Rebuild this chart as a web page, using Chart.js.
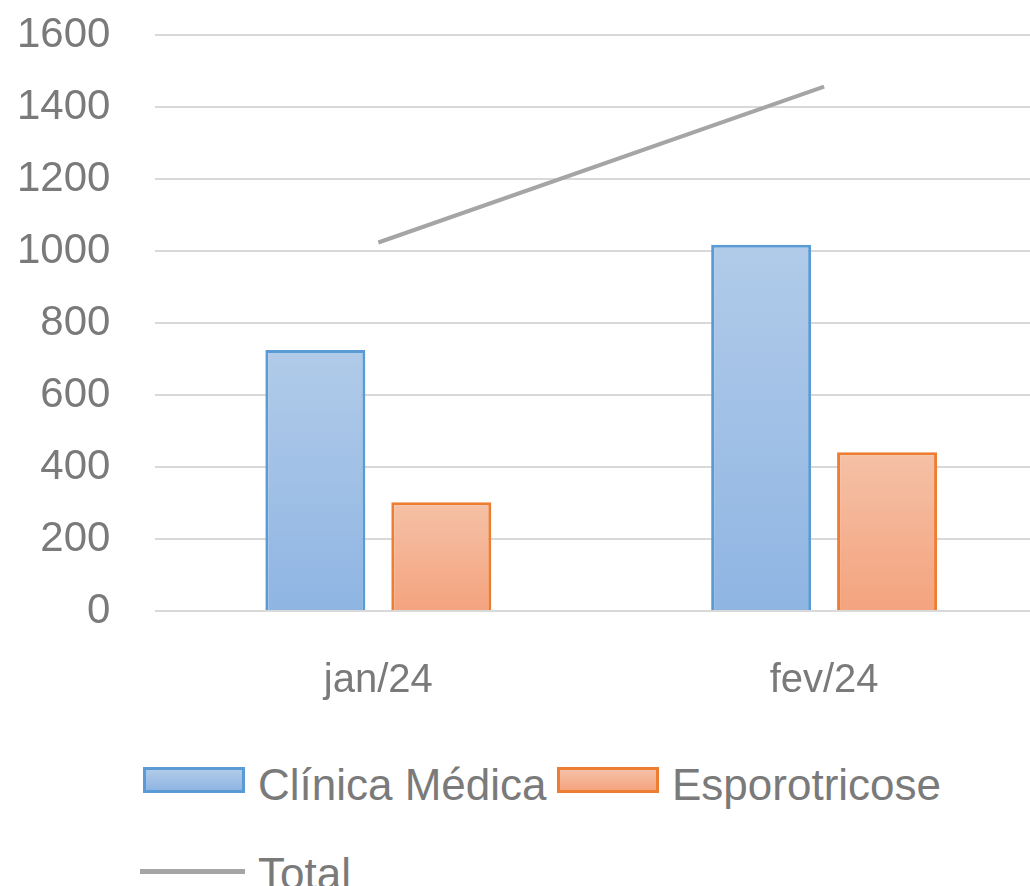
<!DOCTYPE html>
<html lang="pt">
<head>
<meta charset="UTF-8">
<title>Atendimentos</title>
<script src="https://cdn.jsdelivr.net/npm/chart.js"></script>
<style>
  html, body { margin: 0; padding: 0; background: #fff; overflow: hidden; }
  #wrap { position: relative; width: 1030px; height: 886px; overflow: hidden; font-family: "Liberation Sans", Arial, sans-serif; }
  #chartBox { position: absolute; left: -28px; top: -35px; width: 1075px; height: 790px; }
  .lg { position: absolute; color: #7a7a7a; font-size: 44px; line-height: 1; white-space: nowrap; }
  .box { position: absolute; box-sizing: border-box; width: 102px; height: 26px; border: 3px solid; }
</style>
</head>
<body>
<div id="wrap">
  <div id="chartBox"><canvas id="chart"></canvas></div>
  <div id="legend"></div>
</div>
<script>
    // dados
    const categorias = ['jan/24', 'fev/24'];
    const clinicaMedica = [725, 1018];
    const esporotricose = [302, 441];
    const total = [1024, 1457];
    const yTicks = [0, 200, 400, 600, 800, 1000, 1200, 1400, 1600];

    const azul = { borda: '#5b9bd5', topo: '#b1cbe9', base: '#8fb5e3' };
    const laranja = { borda: '#ed7d31', topo: '#f5c1a6', base: '#f4a37e' };
    const cinza = '#a5a5a5';

    // gradiente por barra (claro em cima, escuro embaixo)
    function gradiente(cor) {
        return (c) => {
            const chart = c.chart;
            if (!chart.chartArea || c.type !== 'data') return cor.topo;
            const y = chart.scales.y;
            const g = chart.ctx.createLinearGradient(0, y.getPixelForValue(c.raw), 0, y.getPixelForValue(0));
            g.addColorStop(0, cor.topo);
            g.addColorStop(1, cor.base);
            return g;
        };
    }

    const ctx = document.getElementById('chart');
    const myChart = new Chart(ctx, {
        type: 'bar',
        data: {
            labels: categorias,
            datasets: [
                { type: 'line', label: 'Total', data: total, borderColor: cinza, borderWidth: 4,
                  pointRadius: 0, fill: false, order: 0 },
                { label: 'Clínica Médica', data: clinicaMedica, backgroundColor: gradiente(azul),
                  borderColor: azul.borda, borderWidth: 3, borderSkipped: 'bottom', order: 1 },
                { label: 'Esporotricose', data: esporotricose, backgroundColor: gradiente(laranja),
                  borderColor: laranja.borda, borderWidth: 3, borderSkipped: 'bottom', order: 1 }
            ]
        },
        options: {
            responsive: true,
            maintainAspectRatio: false,
            animation: false,
            datasets: { bar: { categoryPercentage: 0.565, barPercentage: 0.794 } },
            layout: { padding: { left: 0, top: 14, right: 0, bottom: 12 } },
            scales: {
                x: {
                    grid: { display: false },
                    border: { display: false },
                    ticks: { color: '#7a7a7a', padding: 38, font: { family: 'Liberation Sans', size: 40 } }
                },
                y: {
                    min: 0, max: 1600,
                    afterBuildTicks: (axis) => { axis.ticks = yTicks.map(v => ({ value: v })); },
                    grid: { color: '#d9d9d9', lineWidth: 2, drawTicks: false },
                    border: { display: false },
                    ticks: { color: '#7a7a7a', padding: 45, font: { family: 'Liberation Sans', size: 42 },
                             callback: (v) => String(v) }
                }
            },
            plugins: {
                legend: { display: false },
                tooltip: { enabled: false }
            }
        }
    });

    // legenda em HTML (duas linhas, alinhada à esquerda)
    const legend = document.getElementById('legend');
    legend.innerHTML =
        '<div class="box" style="left:143px;top:767px;border-color:' + azul.borda + ';background:linear-gradient(' + azul.topo + ',' + azul.base + ')"></div>' +
        '<div class="lg" style="left:258px;top:763px">Clínica Médica</div>' +
        '<div class="box" style="left:557px;top:767px;border-color:' + laranja.borda + ';background:linear-gradient(' + laranja.topo + ',' + laranja.base + ')"></div>' +
        '<div class="lg" style="left:672px;top:763px">Esporotricose</div>' +
        '<div style="position:absolute;left:140px;top:869px;width:105px;height:5px;background:' + cinza + '"></div>' +
        '<div class="lg" style="left:258px;top:852px">Total</div>';
</script>
</body>
</html>
